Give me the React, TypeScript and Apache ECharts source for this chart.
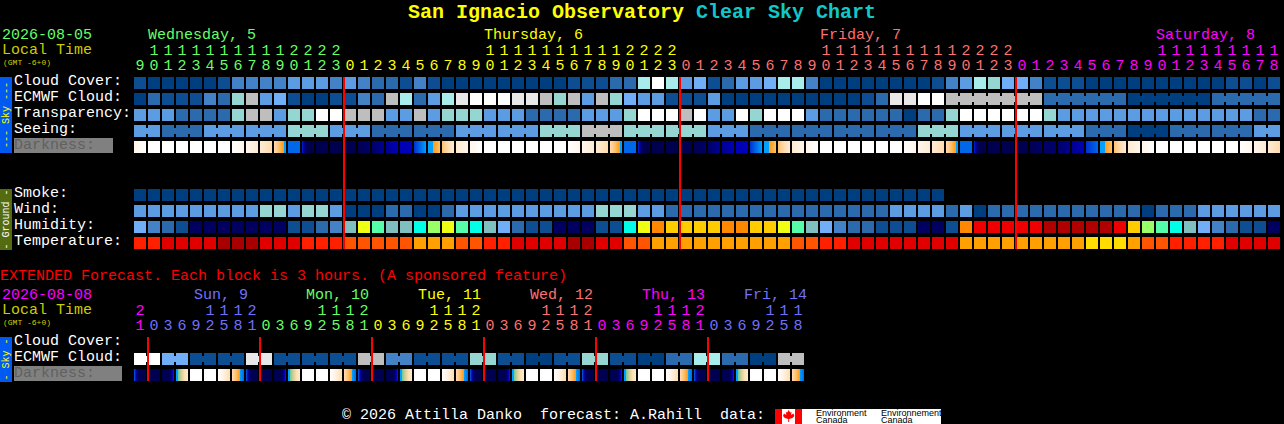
import React, { useEffect, useRef } from "react";
import * as echarts from "echarts";

const MONO = "Liberation Mono";

// ---- palettes (level -> colour)
const cloudColors = ["#003F7F", "#0D4E92", "#2B6BAD", "#4482C8", "#5C9CE3", "#70AFF7", "#96D6D2", "#A8ECEC", "#BEBEBE", "#E8E8E8", "#FFFFFF"];
const humidityColors = ["#000060", "#0D4E92", "#2B6BAD", "#4482C8", "#70AFF7", "#80BFBF", "#00FFE8", "#55FFAA", "#99FF66", "#EEFF14", "#FFCC00", "#FF8800", "#EE0000", "#B00000"];
const temperatureColors = ["#A80000", "#E00000", "#FF2000", "#FF5500", "#FFA000", "#FFDD00"];
const darknessColors = ["#FFFFFF", "#FFF6EB", "#FFEBD2", "#FFDCAE", "#FFC070", "#FF9C10", "#00A0FF", "#0068E8", "#0030D0", "#0000B8", "#000090", "#000068", "#000050"];
const dawnColors = ["#FFFFFF", "#FFF6EB", "#FFEBD2", "#FFE0B8", "#D8D090", "#70C8A0", "#00A0FF", "#0068E8", "#0030D0", "#0000B8", "#000090", "#000068", "#000050"];

// ---- hourly forecast
const hourOnes = ["9","0","1","2","3","4","5","6","7","8","9","0","1","2","3","0","1","2","3","4","5","6","7","8","9","0","1","2","3","4","5","6","7","8","9","0","1","2","3","0","1","2","3","4","5","6","7","8","9","0","1","2","3","4","5","6","7","8","9","0","1","2","3","0","1","2","3","4","5","6","7","8","9","0","1","2","3","4","5","6","7","8"];
const hourTens = ["","1","1","1","1","1","1","1","1","1","1","2","2","2","2","","","","","","","","","","","1","1","1","1","1","1","1","1","1","1","2","2","2","2","","","","","","","","","","","1","1","1","1","1","1","1","1","1","1","2","2","2","2","","","","","","","","","","","1","1","1","1","1","1","1","1","1"];
const hourDaySpans = [15, 24, 24, 19];
const hourDayColors = ["#66FF66", "#FFFF00", "#FF7070", "#FF00FF"];

const cloudCover = [1,0,0,0,0,0,1,3,3,3,3,4,4,4,3,4,3,2,2,1,3,1,0,0,0,0,0,0,0,0,0,1,1,1,2,2,7,10,7,4,5,1,2,4,4,5,7,7,3,0,0,0,0,0,0,0,0,1,3,4,7,6,5,5,3,1,1,1,0,0,0,0,0,0,0,0,0,0,1,1,0,1];
const ecmwfCloud = [0,2,1,1,1,3,2,6,8,4,5,1,0,0,1,1,3,2,8,7,2,4,7,9,10,10,10,9,9,8,6,8,4,8,6,5,4,4,1,1,1,4,0,0,0,0,0,0,0,0,0,0,1,2,9,9,10,10,8,8,8,8,8,8,8,2,2,2,2,2,2,0,0,0,0,0,0,2,2,2,2,2];
const ecmwfBlocks = [...Array(58).fill(1), 7, 6, 6, 5];
const transparency = [4,4,4,2,2,2,2,6,8,8,4,6,6,10,10,8,8,8,4,4,8,4,6,6,6,4,4,4,2,2,2,2,4,4,4,6,10,10,10,8,10,4,4,10,6,10,10,10,4,2,2,2,2,2,2,0,2,2,6,10,10,10,10,10,10,6,4,4,4,4,4,4,4,4,4,4,4,4,4,4,2,2];
const seeing = [4,4,2,2,2,4,4,4,4,4,4,6,6,6,4,4,4,2,2,2,2,2,2,4,4,4,4,4,4,6,6,6,8,8,8,6,6,6,6,6,6,4,4,4,2,2,2,2,2,2,2,2,2,2,2,2,6,6,6,4,4,4,4,4,4,4,4,4,2,2,2,0,0,0,2,2,2,2,2,2,4,4];
const seeingBlocks = [2,3,3,3,3,3,3,3,3,3,3,3,3,3,3,3,3,3,3,3,3,3,3,3,3,3,3,2];
const darkStart = [1,0,0,0,0,0,0,0,1,2,3,7,8,12,12,12,12,11,10,9,8,6,4,2,1,0,0,0,0,0,0,0,1,2,3,7,8,12,12,12,12,11,10,9,8,6,4,2,1,0,0,0,0,0,0,0,1,2,3,7,8,12,12,12,12,11,11,10,8,6,4,2,1,0,0,0,0,0,0,0,1,2];
const darkEnd = [0,0,0,0,0,0,0,1,2,3,6,7,12,12,12,12,11,10,9,9,6,4,2,1,0,0,0,0,0,0,0,1,2,3,6,7,12,12,12,12,11,10,9,9,6,4,2,1,0,0,0,0,0,0,0,1,2,3,6,7,12,12,12,12,11,11,10,9,7,4,2,1,0,0,0,0,0,0,0,1,2,3];
const smoke = [0,0,0,0,0,0,0,0,0,0,0,0,0,0,0,0,0,0,0,0,0,0,0,0,0,0,0,0,0,0,0,0,0,0,0,0,0,0,0,0,0,0,0,0,0,0,0,0,0,0,0,0,0,0,0,0,0,0];
const wind = [4,4,4,4,4,4,4,4,4,6,6,4,6,6,4,0,0,0,2,2,0,0,2,4,4,4,4,4,4,4,4,4,4,6,6,6,4,4,2,2,2,2,2,2,2,2,2,2,2,2,2,2,2,2,4,4,4,4,2,4,0,2,2,2,2,2,2,2,2,2,2,2,0,2,2,2,4,4,4,4,4,4];
const humidity = [4,3,2,1,0,0,0,0,0,0,0,1,1,2,3,5,9,7,5,5,6,8,9,7,6,5,4,2,1,1,0,0,0,1,1,6,9,11,10,10,10,10,11,11,10,10,9,7,5,4,3,2,2,1,1,1,0,0,1,11,12,12,12,12,12,13,13,13,13,13,12,10,8,7,6,5,4,3,2,1,1,0];
const temperature = [2,2,1,1,1,1,0,0,0,1,1,1,2,2,2,3,3,3,3,3,4,4,4,3,3,2,2,1,1,1,1,0,0,1,1,3,3,4,4,4,4,4,4,4,4,4,4,3,3,2,2,1,1,1,1,1,1,1,1,4,4,4,4,4,4,4,4,4,5,5,5,4,3,3,2,2,2,2,1,1,1,1];
const midnightCols = [15, 39, 63];
const dayLabels = [
  { col: 1, text: "Wednesday, 5", color: "#66FF66" },
  { col: 25, text: "Thursday, 6", color: "#FFFF00" },
  { col: 49, text: "Friday, 7", color: "#FF7070" },
  { col: 73, text: "Saturday, 8", color: "#FF00FF" },
];
const skyGroundRows = ["Cloud Cover:", "ECMWF Cloud:", "Transparency:", "Seeing:", "Darkness:", "", "", "Smoke:", "Wind:", "Humidity:", "Temperature:"];

// ---- extended forecast
const extOnes = ["1","0","3","6","9","2","5","8","1","0","3","6","9","2","5","8","1","0","3","6","9","2","5","8","1","0","3","6","9","2","5","8","1","0","3","6","9","2","5","8","1","0","3","6","9","2","5","8"];
const extTens = ["2","","","","","1","1","1","2","","","","","1","1","1","2","","","","","1","1","1","2","","","","","1","1","1","2","","","","","1","1","1","2","","","","","1","1","1"];
const extDaySpans = [1, 8, 8, 8, 8, 8, 7];
const extDayColors = ["#FF00FF", "#7070FF", "#66FF66", "#FFFF00", "#FF7070", "#FF00FF", "#7070FF"];
const extEcmwf = [10,10,5,5,1,1,1,1,9,9,1,1,1,1,1,1,8,8,3,3,1,1,1,1,6,6,1,1,0,0,1,1,6,6,1,1,0,0,2,2,7,7,2,2,0,0,8,8];
const extBlocks = Array(24).fill(2);
const extDarkStart = [7,12,12,6,0,0,0,3,7,12,12,6,0,0,0,3,7,12,12,6,0,0,0,3,7,12,12,6,0,0,0,3,7,12,12,6,0,0,0,3,7,12,12,6,0,0,0,3];
const extDarkEnd = [12,12,8,2,0,0,3,7,12,12,8,2,0,0,3,7,12,12,8,2,0,0,3,7,12,12,8,2,0,0,3,7,12,12,8,2,0,0,3,7,12,12,8,2,0,0,3,7];
const extMidnightCols = [1, 9, 17, 25, 33, 41];
const extDayLabels = [
  { x: 194, text: "Sun, 9", color: "#7070FF" },
  { x: 306, text: "Mon, 10", color: "#66FF66" },
  { x: 418, text: "Tue, 11", color: "#FFFF00" },
  { x: 530, text: "Wed, 12", color: "#FF7070" },
  { x: 642, text: "Thu, 13", color: "#FF00FF" },
  { x: 744, text: "Fri, 14", color: "#7070FF" },
];
const extRows = ["Cloud Cover:", "ECMWF Cloud:", "Darkness:"];

// ---- drawing constants
const COL = 14;
const ROW = 16;
const CELL = 12;
const NOTCH = 3;
const GRID_LEFT = 133;

echarts.graphic.registerShape(
  "mapleLeaf",
  echarts.graphic.extendPath(
    "M6 0L7.5 2.5L9 2L8.5 5L11 3.5L12 6L10 8L6.5 9L6.5 12L5.5 12L5.5 9L2 8L0 6L1 3.5L3.5 5L3 2L4.5 2.5Z",
    {}
  ) as any
);

function spansToColors(spans: number[], colors: string[]): string[] {
  const out: string[] = [];
  spans.forEach((n, i) => {
    for (let k = 0; k < n; k++) out.push(colors[i]);
  });
  return out;
}

function blocksToLinks(blocks: number[]): boolean[] {
  const out: boolean[] = [];
  blocks.forEach((n) => {
    for (let k = 0; k < n; k++) out.push(k < n - 1);
  });
  return out;
}

function cellItem(x: number, y: number, fill: any, linked: boolean) {
  const children: any[] = [
    { type: "rect", shape: { x, y, width: CELL, height: CELL }, style: { fill } },
  ];
  if (linked) {
    children.push({
      type: "rect",
      shape: { x: x + CELL, y: y + NOTCH, width: COL - CELL, height: CELL - 2 * NOTCH },
      style: { fill },
    });
  }
  return { type: "group", children };
}

function levelSeries(row: number, values: number[], palette: string[], links?: boolean[]) {
  return {
    type: "custom",
    coordinateSystem: "cartesian2d",
    encode: { x: 0, y: 1 },
    z: 2,
    clip: false,
    data: values.map((v, i) => [i, row, v, links && links[i] ? 1 : 0]),
    renderItem: (_p: any, api: any) => {
      const c = api.coord([api.value(0), api.value(1)]);
      return cellItem(c[0] - CELL / 2, c[1] - CELL / 2, palette[api.value(2)], !!api.value(3));
    },
  };
}

// Twilight fill: the colour steps are unevenly spread, the orange/blue edge being sharp.
function twilightFill(a: number, b: number, palette: string[]) {
  if (a === b) return palette[a];
  const dir = b > a ? 1 : -1;
  const weights: number[] = [0];
  for (let l = a; l !== b; l += dir) {
    const crossing = Math.min(l, l + dir) === 5;
    weights.push(weights[weights.length - 1] + (crossing ? 0.1 : 1));
  }
  const total = weights[weights.length - 1];
  let from = 0;
  let to = 1;
  if (a < 6 && b === 6) to = 0.85;
  if (a === 6 && b < 6) from = palette === dawnColors ? 0.15 : 0.4;
  if (a < b && b === 12) to = 0.4;
  if (a === 12 && b <= 9) from = 0.6;
  const stops = weights.map((w, k) => ({
    offset: from + (to - from) * (w / total),
    color: palette[a + dir * k],
  }));
  return new echarts.graphic.LinearGradient(0, 0, 1, 0, stops);
}

function gradientSeries(row: number, starts: number[], ends: number[], paletteOf: (s: number, e: number) => string[]) {
  return {
    type: "custom",
    coordinateSystem: "cartesian2d",
    encode: { x: 0, y: 1 },
    z: 2,
    clip: false,
    data: starts.map((s, i) => [i, row, s, ends[i]]),
    renderItem: (_p: any, api: any) => {
      const c = api.coord([api.value(0), api.value(1)]);
      const a = api.value(2);
      const b = api.value(3);
      return cellItem(c[0] - CELL / 2, c[1] - CELL / 2, twilightFill(a, b, paletteOf(a, b)), false);
    },
  };
}

function midnightSeries(cols: number[]) {
  return {
    type: "custom",
    coordinateSystem: "cartesian2d",
    encode: { x: 0 },
    z: 5,
    clip: false,
    data: cols.map((c) => [c, 0]),
    renderItem: (p: any, api: any) => {
      const c = api.coord([api.value(0), 0]);
      return {
        type: "rect",
        shape: {
          x: c[0] - COL / 2,
          y: p.coordSys.y + 2,
          width: 2,
          height: p.coordSys.height - 4,
        },
        style: { fill: "#FF0000" },
      };
    },
  };
}

function hourAxis(gridIndex: number, labels: string[], colors: string[], offset: number) {
  return {
    type: "category",
    gridIndex,
    position: "top",
    offset,
    boundaryGap: true,
    data: labels.map((value, i) => ({ value, textStyle: { color: colors[i] } })),
    axisLine: { show: false },
    axisTick: { show: false },
    splitLine: { show: false },
    axisLabel: { show: true, interval: 0, margin: 1, fontFamily: MONO, fontSize: 15, hideOverlap: false },
  };
}

function rowAxis(gridIndex: number, rows: string[]) {
  const common = { align: "left", verticalAlign: "bottom", lineHeight: 4, fontFamily: MONO, fontSize: 15 };
  return {
    type: "category",
    gridIndex,
    inverse: true,
    data: rows.map((value) => ({
      value,
      textStyle: { ...common, color: value === "Darkness:" ? "#606060" : "#FFFFFF" },
    })),
    axisLine: { show: false },
    axisTick: { show: false },
    splitLine: { show: false },
    axisLabel: { show: true, interval: 0, align: "left", margin: 119, fontFamily: MONO, fontSize: 15 },
  };
}

function txt(x: number, y: number, text: string, fill: string, fontSize = 15, extra: any = {}) {
  return {
    type: "text",
    x,
    y,
    z: 10,
    style: {
      text,
      fill,
      fontFamily: MONO,
      fontSize,
      textAlign: "left",
      textVerticalAlign: "middle",
      ...extra,
    },
  };
}

function sideBar(y: number, h: number, color: string, text: string, textColor: string) {
  return [
    { type: "rect", z: 9, shape: { x: 0, y, width: 12, height: h }, style: { fill: color } },
    {
      type: "text",
      z: 10,
      x: 6,
      y: y + h / 2,
      rotation: Math.PI / 2,
      style: {
        text,
        fill: textColor,
        fontFamily: MONO,
        fontSize: 10,
        textAlign: "center",
        textVerticalAlign: "middle",
      },
    },
  ];
}

export default function App() {
  const ref = useRef<HTMLDivElement>(null);
  useEffect(() => {
    document.body.style.margin = "0";
    document.body.style.background = "#000";
    document.body.style.overflow = "hidden";
    const chart = echarts.init(ref.current!, undefined, { renderer: "svg" });
    const hourColors = spansToColors(hourDaySpans, hourDayColors);
    const extColors = spansToColors(extDaySpans, extDayColors);
    const option: any = {
      animation: false,
      backgroundColor: "#000000",
      tooltip: { show: false },
      grid: [
        { left: GRID_LEFT, top: 75, width: COL * 82, height: ROW * 11, outerBoundsMode: "none", containLabel: false },
        { left: GRID_LEFT, top: 335, width: COL * 48, height: ROW * 3, outerBoundsMode: "none", containLabel: false },
      ],
      xAxis: [
        hourAxis(0, hourOnes, hourColors, 0),
        hourAxis(0, hourTens, hourColors, 15),
        hourAxis(1, extOnes, extColors, 0),
        hourAxis(1, extTens, extColors, 15),
      ],
      yAxis: [rowAxis(0, skyGroundRows), rowAxis(1, extRows)],
      series: [
        levelSeries(0, cloudCover, cloudColors),
        levelSeries(1, ecmwfCloud, cloudColors, blocksToLinks(ecmwfBlocks)),
        levelSeries(2, transparency, cloudColors),
        levelSeries(3, seeing, cloudColors, blocksToLinks(seeingBlocks)),
        gradientSeries(4, darkStart, darkEnd, () => darknessColors),
        levelSeries(7, smoke, cloudColors),
        levelSeries(8, wind, cloudColors),
        levelSeries(9, humidity, humidityColors),
        levelSeries(10, temperature, temperatureColors),
        midnightSeries(midnightCols),
      ].concat(
        [
          levelSeries(1, extEcmwf, cloudColors, blocksToLinks(extBlocks)),
          gradientSeries(2, extDarkStart, extDarkEnd, (s, e) => (s === 6 && e < 6 ? dawnColors : darknessColors)),
          midnightSeries(extMidnightCols),
        ].map((s: any) => ({ ...s, xAxisIndex: 2, yAxisIndex: 1 }))
      ),
      graphic: {
        elements: [
          { type: "rect", z: -1, shape: { x: 14, y: 138, width: 99, height: 15 }, style: { fill: "#808080" } },
          { type: "rect", z: -1, shape: { x: 14, y: 366, width: 108, height: 15 }, style: { fill: "#808080" } },
          txt(408, 12, "San Ignacio Observatory", "#FFFF00", 20, { fontWeight: "bold" }),
          txt(696, 12, "Clear Sky Chart", "#10C8C8", 20, { fontWeight: "bold" }),
          txt(2, 35, "2026-08-05", "#66FF66"),
          txt(2, 50, "Local Time", "#CCCC00"),
          txt(3, 62, "(GMT -6+0)", "#CCCC00", 8),
          ...dayLabels.map((d) => txt(GRID_LEFT + 1 + COL * d.col, 35, d.text, d.color)),
          ...sideBar(77, 76, "#0059F0", "--- Sky ---", "#FFFF00"),
          ...sideBar(189, 61, "#556B10", "- Ground -", "#FFFFFF"),
          txt(0, 276, "EXTENDED Forecast. Each block is 3 hours. (A sponsored feature)", "#FF0000"),
          txt(2, 295, "2026-08-08", "#FF00FF"),
          txt(2, 310, "Local Time", "#CCCC00"),
          txt(3, 322, "(GMT -6+0)", "#CCCC00", 8),
          ...extDayLabels.map((d) => txt(d.x, 295, d.text, d.color)),
          ...sideBar(337, 45, "#0059F0", "- Sky -", "#FFFF00"),
          txt(342, 415, "\u00A9 2026 Attilla Danko  forecast: A.Rahill  data:", "#FFFFFF"),
          { type: "rect", z: 9, shape: { x: 775, y: 409, width: 166, height: 15 }, style: { fill: "#FFFFFF" } },
          { type: "rect", z: 10, shape: { x: 775, y: 409, width: 7, height: 15 }, style: { fill: "#FF0000" } },
          { type: "rect", z: 10, shape: { x: 795, y: 409, width: 7, height: 15 }, style: { fill: "#FF0000" } },
          { type: "mapleLeaf", z: 10, x: 783, y: 410, scaleX: 0.95, scaleY: 1, style: { fill: "#FF0000" } },
          txt(816, 416.5, "Environment\nCanada", "#000000", 9, { fontFamily: "Liberation Sans", lineHeight: 7.5 }),
          txt(881, 416.5, "Environnement\nCanada", "#000000", 9, { fontFamily: "Liberation Sans", lineHeight: 7.5 }),
        ],
      },
    };
    chart.setOption(option);
    return () => chart.dispose();
  }, []);
  return <div ref={ref} style={{ width: 1284, height: 424, position: "absolute", left: 0, top: 0 }} />;
}
